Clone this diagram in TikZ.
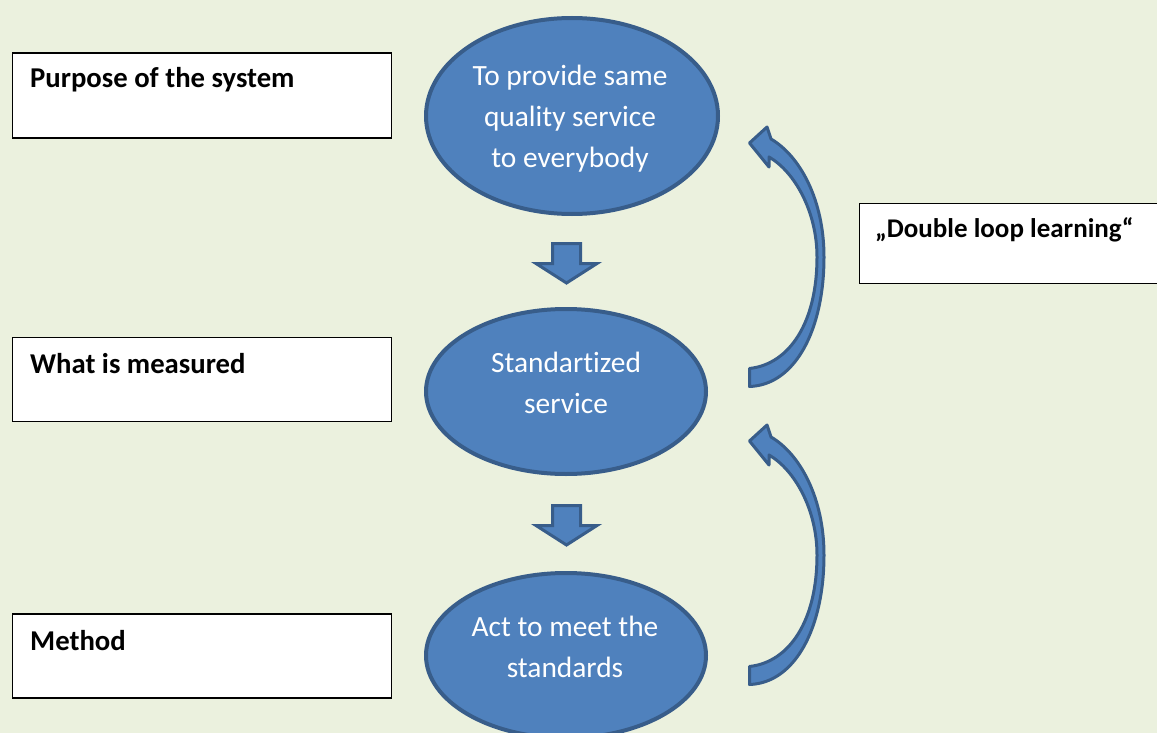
\documentclass[tikz,border=0pt]{standalone}
\usepackage{fontspec}
\setmainfont{Carlito}[Ligatures=NoCommon]
\usetikzlibrary{shapes.geometric}
\definecolor{pagebg}{HTML}{EBF1DE}
\definecolor{shapefill}{HTML}{4F81BD}
\definecolor{shapeedge}{HTML}{385D8A}
\tikzset{
  labelbox/.style={draw=black, line width=1.6pt, fill=white, rectangle, inner sep=0pt},
  boxtext/.style={font=\fontsize{28.7}{34}\selectfont\bfseries, anchor=base west, inner sep=0pt},
  boxtextsmall/.style={boxtext, font=\fontsize{27}{32}\selectfont\bfseries},
  bubble/.style={ellipse, draw=shapeedge, line width=4pt, fill=shapefill, inner sep=0pt},
  bubbletext/.style={text=white, align=center, inner sep=0pt, font=\fontsize{29.4}{41}\selectfont},
  blockshape/.style={draw=shapeedge, line width=3pt, fill=shapefill, line join=miter},
  downarrow/.pic={
    \path[blockshape] (552.5,243.5) -- (580.5,243.5) -- (580.5,263.5) -- (597,263.5)
      -- (566.5,283) -- (536,263.5) -- (552.5,263.5) -- cycle;
  },
  loopback/.pic={
    \path[blockshape, line join=round] (749.5,368.5) -- (749.5,386.5)
      .. controls (795,385) and (824,330) .. (824,257)
      .. controls (824,200) and (800,156) .. (771,139)
      -- (767,127) -- (749.5,143) -- (769,167) -- (769,157)
      .. controls (795,172) and (817,212) .. (817,257)
      .. controls (817,322) and (790,364) .. (749.5,368.5) -- cycle;
  }
}
\begin{document}
\begin{tikzpicture}[x=1pt, y=-1pt]
  \clip (0,0) rectangle (1157,733);
  \fill[pagebg] (0,0) rectangle (1157,733);

  % level labels on the left and the loop label on the right
  \node[labelbox, minimum width=379pt, minimum height=85pt, anchor=north west] (b1) at (11.5,52) {};
  \node[labelbox, minimum width=379pt, minimum height=84pt, anchor=north west] (b2) at (11.5,336.5) {};
  \node[labelbox, minimum width=379pt, minimum height=84pt, anchor=north west] (b3) at (11.5,613) {};
  \node[labelbox, minimum width=320pt, minimum height=80pt, anchor=north west] (b4) at (858.5,202.5) {};
  \node[boxtext] (t1) at (30,88) {Purpose of the system};
  \node[boxtext] (t2) at (30,373) {What is measured};
  \node[boxtext] (t3) at (30,650) {Method};
  \node[boxtextsmall] (t4) at (875,237) {„Double loop learning“};

  % the three levels
  \node[bubble, minimum width=292pt, minimum height=196pt] (e1) at (572,116) {};
  \node[bubble, minimum width=280pt, minimum height=165pt] (e2) at (566,391.5) {};
  \node[bubble, minimum width=280pt, minimum height=165pt] (e3) at (566,655.5) {};
  \node[bubbletext] (l1) at (570,119) {To provide same\\quality service\\to everybody};
  \node[bubbletext] (l2) at (566,383) {Standartized\\service};
  \node[bubbletext] (l3) at (565,647) {Act to meet the\\standards};

  % block arrows between the levels
  \pic at (0,0) {downarrow};
  \pic at (0,262) {downarrow};

  % feedback arrows on the right
  \pic at (0,0) {loopback};
  \pic at (0,298) {loopback};
\end{tikzpicture}
\end{document}
